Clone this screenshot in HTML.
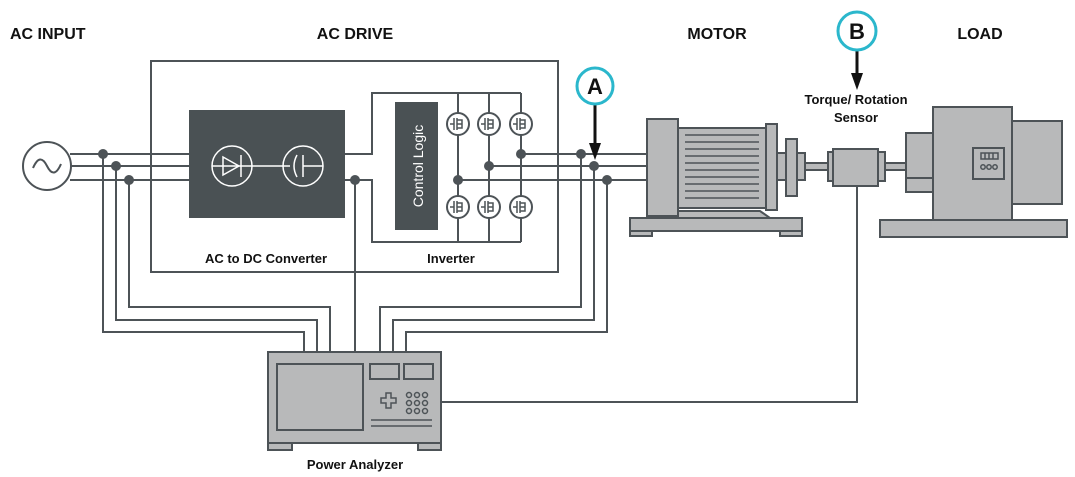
<!DOCTYPE html>
<html><head><meta charset="utf-8"><style>
html,body{margin:0;padding:0;background:#fff}
svg{display:block}
text{font-family:"Liberation Sans",sans-serif;font-weight:bold;fill:#111}
</style></head><body>
<svg width="1075" height="477" viewBox="0 0 1075 477" xmlns="http://www.w3.org/2000/svg">
<g fill="none" stroke="#4d5357" stroke-width="2">
<!-- AC drive box -->
<rect x="151" y="61" width="407" height="211"/>
<!-- input phases -->
<line x1="70" y1="154" x2="189" y2="154"/>
<line x1="70" y1="166" x2="189" y2="166"/>
<line x1="70" y1="180" x2="189" y2="180"/>
<!-- drop lines to analyzer -->
<polyline points="103,154 103,332 304,332 304,352"/>
<polyline points="116,166 116,320 317,320 317,352"/>
<polyline points="129,180 129,307 330,307 330,352"/>
<line x1="355" y1="180" x2="355" y2="352"/>
<polyline points="581,154 581,307 380,307 380,352"/>
<polyline points="594,166 594,320 393,320 393,352"/>
<polyline points="607,180 607,332 406,332 406,352"/>
<!-- converter to inverter -->
<polyline points="345,154 372,154 372,93 521,93"/>
<polyline points="345,180 372,180 372,242 521,242"/>
<line x1="458" y1="93" x2="458" y2="242"/>
<line x1="489" y1="93" x2="489" y2="242"/>
<line x1="521" y1="93" x2="521" y2="242"/>
<!-- output phases -->
<line x1="521" y1="154" x2="648" y2="154"/>
<line x1="489" y1="166" x2="648" y2="166"/>
<line x1="458" y1="180" x2="648" y2="180"/>
<!-- sensor line -->
<polyline points="857,186 857,402 441,402"/>
</g>
<!-- source -->
<circle cx="47" cy="166" r="24" fill="#fff" stroke="#4d5357" stroke-width="2"/>
<path d="M33,168 Q40,152 47,166 T61,164" fill="none" stroke="#4d5357" stroke-width="2"/>
<!-- dots -->
<g fill="#4d5357">
<circle cx="103" cy="154" r="5"/><circle cx="116" cy="166" r="5"/><circle cx="129" cy="180" r="5"/>
<circle cx="355" cy="180" r="5"/>
<circle cx="521" cy="154" r="5"/><circle cx="489" cy="166" r="5"/><circle cx="458" cy="180" r="5"/>
<circle cx="581" cy="154" r="5"/><circle cx="594" cy="166" r="5"/><circle cx="607" cy="180" r="5"/>
</g>
<!-- converter -->
<rect x="189" y="110" width="156" height="108" fill="#4a5154"/>
<g stroke="#fff" stroke-width="1.5" fill="none">
<circle cx="232" cy="166" r="20"/><circle cx="303" cy="166" r="20"/>
<line x1="212" y1="166" x2="290" y2="166"/>
<polygon points="223,157 223,175 239,166"/>
<line x1="241" y1="155" x2="241" y2="177"/>
<line x1="303" y1="155" x2="303" y2="177"/>
<path d="M297,155 Q291,166 297,177"/>
<line x1="303" y1="166" x2="323" y2="166"/>
</g>
<!-- control logic -->
<rect x="395" y="102" width="43" height="128" fill="#4a5154"/>
<text transform="translate(423,166) rotate(-90)" text-anchor="middle" font-size="14" style="fill:#fff;font-weight:normal">Control Logic</text>
<!-- transistors -->
<g fill="#fff" stroke="#4d5357" stroke-width="2">
<circle cx="458" cy="124" r="11"/><circle cx="489" cy="124" r="11"/><circle cx="521" cy="124" r="11"/>
<circle cx="458" cy="207" r="11"/><circle cx="489" cy="207" r="11"/><circle cx="521" cy="207" r="11"/>
</g>
<g stroke="#4d5357" stroke-width="1.5" fill="none">
<path d="M450,124h4M454,118v12M457,118v12M457,120h5v8h-5M457,124h5"/>
<path d="M481,124h4M485,118v12M488,118v12M488,120h5v8h-5M488,124h5"/>
<path d="M513,124h4M517,118v12M520,118v12M520,120h5v8h-5M520,124h5"/>
<path d="M450,207h4M454,201v12M457,201v12M457,203h5v8h-5M457,207h5"/>
<path d="M481,207h4M485,201v12M488,201v12M488,203h5v8h-5M488,207h5"/>
<path d="M513,207h4M517,201v12M520,201v12M520,203h5v8h-5M520,207h5"/>
</g>
<!-- motor -->
<g fill="#b8b9ba" stroke="#4d5357" stroke-width="2">
<rect x="630" y="218" width="172" height="13"/>
<rect x="630" y="231" width="22" height="5"/><rect x="780" y="231" width="22" height="5"/>
<polygon points="660,218 770,218 760,211 670,211"/>
<rect x="678" y="128" width="88" height="80"/>
<rect x="647" y="119" width="31" height="97"/>
<rect x="766" y="124" width="11" height="86"/>
<rect x="777" y="153" width="28" height="27"/>
<rect x="786" y="139" width="11" height="57"/>
<rect x="805" y="163" width="24" height="7"/>
<rect x="828" y="152" width="6" height="29"/>
<rect x="878" y="152" width="7" height="29"/>
<rect x="833" y="149" width="45" height="37"/>
<rect x="885" y="163" width="21" height="7"/>
<rect x="880" y="220" width="187" height="17"/>
<rect x="906" y="133" width="27" height="45"/>
<rect x="906" y="178" width="27" height="14"/>
<rect x="1012" y="121" width="50" height="83"/>
<rect x="933" y="107" width="79" height="113"/>
<rect x="973" y="148" width="31" height="31"/>
</g>
<g stroke="#4d5357" stroke-width="1.5" fill="none">
<path d="M685,135h74M685,142h74M685,149h74M685,156h74M685,163h74M685,170h74M685,177h74M685,184h74M685,191h74M685,198h74"/>
<rect x="981" y="153" width="17" height="6"/>
<path d="M985,153v6M989,153v6M993,153v6"/>
<circle cx="983" cy="167" r="2.2"/><circle cx="989" cy="167" r="2.2"/><circle cx="995" cy="167" r="2.2"/>
</g>
<!-- analyzer -->
<g fill="#b8b9ba" stroke="#4d5357" stroke-width="2">
<rect x="268" y="443" width="24" height="7"/><rect x="418" y="443" width="23" height="7"/>
<rect x="268" y="352" width="173" height="91"/>
<rect x="277" y="364" width="86" height="66"/>
<rect x="370" y="364" width="29" height="15"/>
<rect x="404" y="364" width="29" height="15"/>
</g>
<g stroke="#4d5357" stroke-width="1.5" fill="none">
<path d="M381,398h5v-5h5v5h5v5h-5v5h-5v-5h-5z"/>
<circle cx="409" cy="395" r="2.5"/><circle cx="417" cy="395" r="2.5"/><circle cx="425" cy="395" r="2.5"/>
<circle cx="409" cy="403" r="2.5"/><circle cx="417" cy="403" r="2.5"/><circle cx="425" cy="403" r="2.5"/>
<circle cx="409" cy="411" r="2.5"/><circle cx="417" cy="411" r="2.5"/><circle cx="425" cy="411" r="2.5"/>
<path d="M371,420h61M371,426h61"/>
</g>
<!-- markers -->
<g stroke="#111" stroke-width="3"><line x1="595" y1="104" x2="595" y2="145"/><line x1="857" y1="48" x2="857" y2="75"/></g>
<polygon points="589,143 601,143 595,160" fill="#111"/>
<polygon points="851,73 863,73 857,90" fill="#111"/>
<circle cx="595" cy="86" r="18" fill="#fff" stroke="#2bb7cc" stroke-width="3"/>
<circle cx="857" cy="31" r="19" fill="#fff" stroke="#2bb7cc" stroke-width="3"/>
<text x="595" y="94" text-anchor="middle" font-size="22">A</text>
<text x="857" y="39" text-anchor="middle" font-size="22">B</text>
<!-- labels -->
<text x="10" y="39" font-size="16">AC INPUT</text>
<text x="355" y="39" text-anchor="middle" font-size="16">AC DRIVE</text>
<text x="717" y="39" text-anchor="middle" font-size="16">MOTOR</text>
<text x="980" y="39" text-anchor="middle" font-size="16">LOAD</text>
<text x="856" y="104" text-anchor="middle" font-size="13">Torque/ Rotation</text>
<text x="856" y="122" text-anchor="middle" font-size="13">Sensor</text>
<text x="266" y="263" text-anchor="middle" font-size="13">AC to DC Converter</text>
<text x="451" y="263" text-anchor="middle" font-size="13">Inverter</text>
<text x="355" y="469" text-anchor="middle" font-size="13">Power Analyzer</text>
</svg>
</body></html>
